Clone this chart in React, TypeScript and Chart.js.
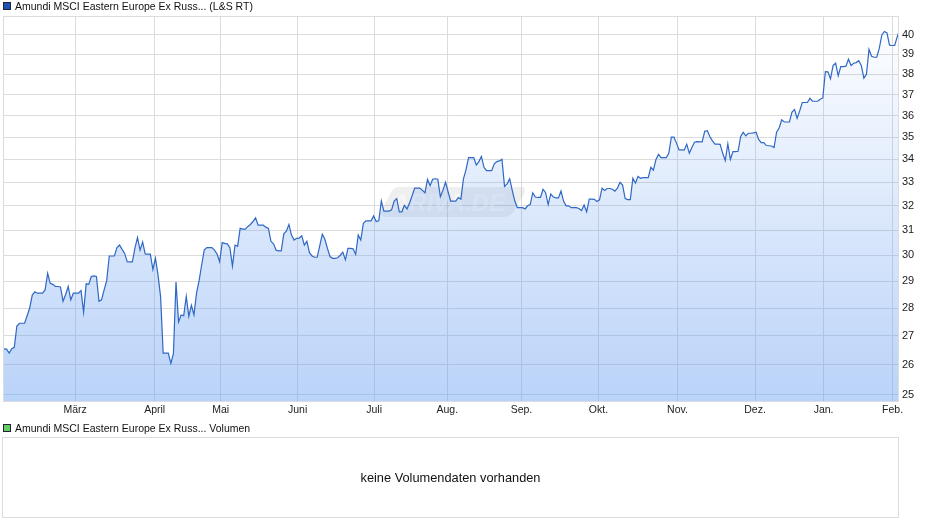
import { useEffect, useRef } from "react";
import { Chart, registerables } from "chart.js";

Chart.register(...registerables);

const titel = "Amundi MSCI Eastern Europe Ex Russ... (L&S RT)";
const titelVolumen = "Amundi MSCI Eastern Europe Ex Russ... Volumen";
const keineDaten = "keine Volumendaten vorhanden";

const monate = ["März", "April", "Mai", "Juni", "Juli", "Aug.", "Sep.", "Okt.", "Nov.", "Dez.", "Jan.", "Feb."];
const monatsStart = [27.7, 58.7, 84.4, 114.4, 144.2, 172.7, 201.6, 231.6, 262.4, 292.6, 319.3, 346.2];
const kursTicks = [25, 26, 27, 28, 29, 30, 31, 32, 33, 34, 35, 36, 37, 38, 39, 40];

// Tageswerte
const kurs = [
    26.55, 26.54, 26.4, 26.55, 26.6, 27.35, 27.45, 27.45, 27.45, 27.72, 28.0, 28.48, 28.6, 28.55, 28.55, 28.55,
    28.67, 29.3, 28.92, 28.88, 28.8, 28.8, 28.78, 28.25, 28.5, 28.8, 28.3, 28.55, 28.55, 28.55, 28.65, 27.85,
    28.9, 28.88, 29.18, 29.2, 29.18, 28.25, 28.3, 28.67, 29.02, 29.97, 29.97, 29.97, 30.3, 30.4, 30.23, 30.07,
    29.75, 29.74, 29.74, 30.28, 30.7, 30.2, 30.52, 30.05, 30.04, 30.04, 29.45, 29.88, 29.23,
    28.42, 26.4, 26.4, 26.4, 26.05, 26.38, 28.97, 27.5, 27.75, 27.72, 28.43, 27.7, 28.1, 27.75, 28.55, 29.02,
    29.62, 30.2, 30.3, 30.3, 30.3, 30.2, 30.05, 29.75, 30.5, 30.47, 30.45, 30.3, 29.58, 30.4, 30.35, 31.07,
    31.04, 31.04, 31.15, 31.23, 31.35, 31.5, 31.2, 31.2, 31.2, 31.12, 31.07, 30.55, 30.45, 30.2, 30.17, 30.17,
    30.85, 30.96, 31.23, 30.8, 30.6, 30.67, 30.68, 30.77,
    30.4, 30.55, 30.1, 29.97, 29.92, 29.92, 30.37, 30.83, 30.63, 30.27, 29.95, 29.88, 29.88, 29.9, 30.0, 30.12,
    29.82, 30.27, 30.27, 30.25, 30.03, 30.8, 30.6, 31.28, 31.38, 31.38, 31.38, 31.58, 31.35, 31.38, 32.2, 31.78,
    31.78, 31.78, 31.83, 32.2, 32.3, 31.75, 31.75, 32.02, 31.87, 32.12, 32.42, 32.75, 32.75, 32.75, 32.65, 32.55,
    33.12, 32.85, 33.13, 33.15, 33.13, 32.38, 32.65, 33.0, 32.6, 32.2, 32.2, 32.2, 32.35, 32.28,
    33.15, 33.55, 34.08, 34.08, 34.08, 33.75, 33.9, 34.13, 33.65, 33.5, 33.5, 33.5, 33.8, 33.9, 33.93, 34.0,
    32.82, 32.93, 33.15, 32.65, 32.2, 31.92, 31.92, 31.92, 31.87, 32.0, 32.05, 32.55, 32.37, 32.35, 32.35, 32.7,
    32.55, 32.05, 32.5, 32.37, 32.33, 32.33, 32.62, 32.2, 32.0, 32.0, 31.92, 31.92, 31.92, 31.89, 31.8, 32.03,
    31.75, 32.28, 32.28, 32.27, 32.18, 32.25, 32.75, 32.65, 32.73, 32.73, 32.7,
    32.62, 32.75, 33.0, 32.88, 32.3, 32.26, 32.26, 33.17, 32.96, 33.25, 33.17, 33.2, 33.2, 33.2, 33.65, 33.52,
    34.0, 34.22, 34.08, 34.08, 34.08, 34.27, 35.0, 35.0, 34.73, 34.42, 34.42, 34.41, 34.68, 34.27, 34.53, 34.77,
    34.8, 34.79, 34.79, 35.27, 35.3, 35.03, 34.83, 34.68, 34.68, 34.67, 34.27, 33.95, 34.7, 34.0, 34.35,
    34.35, 34.36, 35.03, 35.22, 35.06, 35.18, 35.18, 35.2, 35.23, 34.9, 34.75,
    34.75, 34.62, 34.61, 34.6, 34.53, 35.23, 35.42, 35.8, 35.7, 35.7, 35.7, 36.17, 36.28, 35.87, 36.22, 36.62,
    36.62, 36.62, 36.82, 36.68, 36.68, 36.68, 36.78, 36.84, 38.13, 38.12, 37.77, 38.43, 38.55, 37.92, 38.38,
    38.38, 38.4, 38.75, 38.43, 38.55, 38.58, 38.68, 38.43, 37.8, 38.0, 39.25, 38.9, 38.85, 38.85, 39.3, 40.0,
    40.18, 40.1, 39.47, 39.45, 39.45, 39.9, 40.28,
];

const GRID = "#dcdcdc";

// Wasserzeichen hinter der Kurve
const wasserzeichen = {
    id: "wasserzeichen",
    beforeDatasetsDraw(chart: Chart) {
        const { ctx, chartArea } = chart;
        const x = chartArea.left + 378;
        const y = chartArea.top + 171;
        ctx.save();
        ctx.beginPath();
        ctx.moveTo(x + 18, y);
        ctx.lineTo(x + 140, y);
        ctx.quadraticCurveTo(x + 146, y, x + 143, y + 7);
        ctx.lineTo(x + 134, y + 23);
        ctx.quadraticCurveTo(x + 130, y + 30, x + 122, y + 30);
        ctx.lineTo(x + 6, y + 30);
        ctx.quadraticCurveTo(x - 2, y + 30, x + 1, y + 23);
        ctx.lineTo(x + 9, y + 7);
        ctx.quadraticCurveTo(x + 12, y, x + 18, y);
        ctx.closePath();
        ctx.fillStyle = "rgba(110,110,120,0.11)";
        ctx.fill();
        ctx.font = "italic bold 24px 'Liberation Sans'";
        ctx.textBaseline = "middle";
        ctx.fillStyle = "rgba(255,255,255,0.4)";
        ctx.fillText("ARIVA.DE", x + 11, y + 17);
        ctx.restore();
    },
};

export default function App() {
    const chartRef = useRef<HTMLCanvasElement>(null);

    useEffect(() => {
        document.body.style.margin = "0";
        if (!chartRef.current) return;

        const chart = new Chart(chartRef.current, {
            type: "line",
            data: {
                datasets: [
                    {
                        data: kurs.map((y, i) => ({ x: i, y })),
                        borderColor: "#2f68c4",
                        borderWidth: 1.2,
                        pointRadius: 0,
                        tension: 0,
                        fill: "start",
                        backgroundColor: (c: any) => {
                            const area = c.chart.chartArea;
                            if (!area) return "transparent";
                            const g = c.chart.ctx.createLinearGradient(0, area.top, 0, area.bottom);
                            g.addColorStop(0, "rgba(90,150,240,0)");
                            g.addColorStop(1, "rgba(90,150,240,0.42)");
                            return g;
                        },
                    },
                ],
            },
            options: {
                responsive: false,
                animation: false,
                layout: { padding: { left: 3, top: 16, right: 0, bottom: 0 } },
                plugins: { legend: { display: false }, tooltip: { enabled: false } },
                scales: {
                    x: {
                        type: "linear",
                        min: -0.4,
                        max: 348.3,
                        afterBuildTicks: (s: any) => {
                            s.ticks = monatsStart.map((value) => ({ value }));
                        },
                        afterFit: (s: any) => {
                            s.height = 125;
                        },
                        grid: { color: GRID, drawTicks: false },
                        border: { color: GRID },
                        ticks: {
                            autoSkip: false,
                            maxRotation: 0,
                            padding: 3,
                            color: "#222",
                            font: { family: "'Liberation Sans'", size: 10.5 },
                            callback: (v: any) => monate[monatsStart.indexOf(v)],
                        },
                    },
                    y: {
                        type: "logarithmic",
                        position: "right",
                        min: 24.8,
                        max: 41,
                        afterBuildTicks: (s: any) => {
                            s.ticks = kursTicks.map((value) => ({ value }));
                        },
                        afterFit: (s: any) => {
                            s.width = 42;
                        },
                        grid: { color: GRID, drawTicks: false },
                        border: { color: GRID },
                        ticks: {
                            autoSkip: false,
                            padding: 4,
                            color: "#222",
                            font: { family: "'Liberation Sans'", size: 11 },
                            callback: (v: any) => String(v),
                        },
                    },
                },
            },
            plugins: [
                wasserzeichen,
                {
                    id: "rahmen",
                    afterDraw(c: Chart) {
                        const { ctx, chartArea: a } = c;
                        ctx.save();
                        ctx.strokeStyle = GRID;
                        ctx.lineWidth = 1;
                        ctx.strokeRect(a.left + 0.5, a.top + 0.5, a.right - a.left, a.bottom - a.top);
                        ctx.restore();
                    },
                },
            ],
        } as any);

        return () => chart.destroy();
    }, []);

    const legende = (top: number, farbe: string, text: string) => (
        <div
            style={{
                position: "absolute",
                left: 3,
                top,
                height: 12,
                display: "flex",
                alignItems: "center",
                font: "10.5px 'Liberation Sans'",
                color: "#111",
                whiteSpace: "nowrap",
            }}
        >
            <span
                style={{
                    width: 6,
                    height: 6,
                    marginRight: 4,
                    background: farbe,
                    border: "1px solid #223",
                    display: "inline-block",
                }}
            />
            {text}
        </div>
    );

    return (
        <div style={{ position: "relative", width: 940, height: 526, background: "#fff", overflow: "hidden" }}>
            <canvas ref={chartRef} width={940} height={526} style={{ position: "absolute", left: 0, top: 0 }} />
            {legende(0, "#1c52b4", titel)}
            {legende(422, "#66cc66", titelVolumen)}
            <div
                style={{
                    position: "absolute",
                    left: 2,
                    top: 437,
                    width: 895,
                    height: 79,
                    border: "1px solid " + GRID,
                    display: "flex",
                    alignItems: "center",
                    justifyContent: "center",
                    font: "12.8px 'Liberation Sans'",
                    color: "#111",
                }}
            >
                {keineDaten}
            </div>
        </div>
    );
}
